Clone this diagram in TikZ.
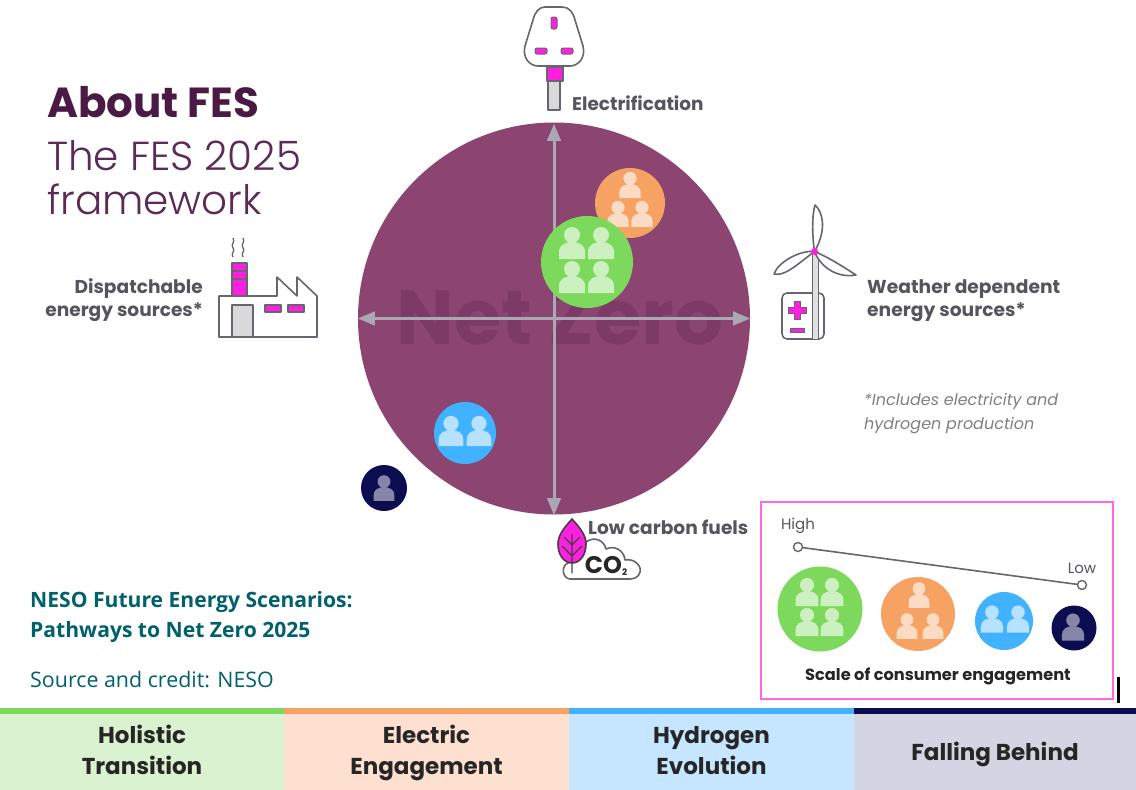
\documentclass[tikz,border=0pt]{standalone}
\usepackage{fontspec}
\setmainfont{Poppins}
\newfontfamily\neso{Open Sans}
\newfontfamily\poplight[UprightFont={* Light}]{Poppins}
\usetikzlibrary{positioning,arrows,calc,shapes}
\definecolor{plum}{HTML}{4A1A44}
\definecolor{plumlight}{HTML}{5B2A55}
\definecolor{disc}{HTML}{8B4570}
\definecolor{discword}{HTML}{7D3A66}
\definecolor{axisgrey}{HTML}{ABA8B6}
\definecolor{iconline}{HTML}{66666E}
\definecolor{labelgrey}{HTML}{55555E}
\definecolor{magenta}{HTML}{FF1FE0}
\definecolor{legendpink}{HTML}{FF66EC}
\definecolor{nesoteal}{HTML}{00606B}
\definecolor{holgreen}{HTML}{7DD95B}
\definecolor{elecorange}{HTML}{F5A263}
\definecolor{hydroblue}{HTML}{40B2FF}
\definecolor{fallnavy}{HTML}{0C0C50}
\definecolor{holpale}{HTML}{DAF2CF}
\definecolor{elecpale}{HTML}{FDE0D0}
\definecolor{hydropale}{HTML}{C6E6FF}
\definecolor{fallpale}{HTML}{D5D4E2}
\newcommand\bandlift{\rule{0pt}{23pt}}
\tikzset{
    label text/.style={
        inner sep=0pt,
        align=left,
        text=labelgrey,
        font=\bfseries
    },
    crowd/.style={
        circle,
        inner sep=0pt
    },
    icon/.style={
        draw=iconline,
        line width=1.6pt,
        line join=round
    },
    band/.style={
        inner sep=0pt,
        outer sep=0pt,
        minimum height=76pt,
        align=center,
        font=\fontsize{23}{30.5}\selectfont\bfseries,
        text=black!85,
        execute at begin node=\rule{0pt}{27pt},
        execute at end node=\strut
    },
    strip/.style={
        inner sep=0pt,
        outer sep=0pt,
        minimum height=6pt
    },
    dot/.style={
        circle,
        draw=iconline,
        fill=white,
        line width=1.4pt,
        minimum size=9pt,
        inner sep=0pt
    },
    pics/person/.style={
        code={
            \fill[white, fill opacity=#1]
                (0,-8) circle (8)
                (-13,16) -- (-13,9) .. controls (-13,2) and (-7,-1) .. (0,-1)
                .. controls (7,-1) and (13,2) .. (13,9) -- (13,16) -- cycle;
        }
    },
    pics/person/.default=0.62
}

\begin{document}
\begin{tikzpicture}[x=1pt, y=-1pt]
    \useasboundingbox[fill=white] (0,0) rectangle (1136,790);

    % title
    \node[anchor=base west, inner sep=0pt, text=plum, font=\fontsize{42}{42}\selectfont\bfseries] (title) at (47,117) {About FES};
    \node[anchor=west, inner sep=0pt, text=plumlight, font=\fontsize{40.5}{44}\selectfont\poplight, align=left] (subtitle) at (47,178) {The FES 2025\\framework};

    % the disc
    \node[crowd, fill=disc, minimum size=392pt] (disc) at (554,318.5) {};
    \node[text=discword, inner sep=0pt, font=\fontsize{76.5}{80}\selectfont\bfseries] (netzero) at (560,318) {Net Zero};
    \coordinate (axtop) at (554,124);
    \coordinate (axbottom) at (554,515);
    \coordinate (axleft) at (358,318.5);
    \coordinate (axright) at (750,318.5);
    \draw[<->, >=triangle 45, axisgrey, line width=3pt] (axtop) -- (axbottom);
    \draw[<->, >=triangle 45, axisgrey, line width=3pt] (axleft) -- (axright);

    \node[crowd, fill=elecorange, minimum size=70pt] (elec) at (630,203) {};
    \foreach \px/\py in {630/185, 618/214, 642/214}
        \pic[scale=.82] at (\px,\py) {person};
    \node[crowd, fill=holgreen, minimum size=92pt] (hol) at (587,262) {};
    \foreach \px/\py in {572/243, 601/243, 572/277, 601/277}
        \pic at (\px,\py) {person};
    \node[crowd, fill=hydroblue, minimum size=62pt] (hydro) at (465,433) {};
    \foreach \px/\py in {451/431, 479/431}
        \pic[scale=.95] at (\px,\py) {person};
    \node[crowd, fill=fallnavy, minimum size=46pt] (fall) at (384,488) {};
    \pic[scale=.8] at (384,488) {person=0.5};

    % plug
    \draw[icon, fill=white] (545,7) -- (562,7) .. controls (569,7) and (573,12) .. (575,20)
        -- (583,46) .. controls (586,58) and (578,66) .. (570,66) -- (538,66)
        .. controls (530,66) and (522,58) .. (525,46) -- (533,20)
        .. controls (535,12) and (539,7) .. (545,7) -- cycle;
    \draw[iconline, fill=magenta, line width=1pt, rounded corners=2pt] (551,17) rectangle (557,29);
    \draw[iconline, fill=magenta, line width=1pt, rounded corners=2pt] (535,48) rectangle (547,54);
    \draw[iconline, fill=magenta, line width=1pt, rounded corners=2pt] (561,48) rectangle (573,54);
    \draw[icon, fill=black!15] (548,81) rectangle (560,110);
    \draw[icon, fill=magenta] (547,67) rectangle (563,81);
    \node[label text, anchor=west, font=\fontsize{18.4}{22}\selectfont\bfseries] (electrification) at (572,103) {Electrification};

    % factory
    \draw[icon, fill=white] (219,296) -- (277,296) -- (277,277) -- (297,296) -- (297,277) -- (317,296)
        -- (317,337) -- (219,337) -- cycle;
    \draw[icon, fill=magenta] (232,263) rectangle (247,296);
    \draw[icon] (232,271) -- (247,271) (232,279) -- (247,279);
    \draw[icon, fill=black!15] (232,305) rectangle (253,337);
    \draw[icon, fill=magenta] (265,305) rectangle (281,312);
    \draw[icon, fill=magenta] (288,305) rectangle (304,312);
    \foreach \sx in {233,243}
        \draw[icon, line width=1.3pt] (\sx,238) .. controls (\sx+3,242) and (\sx-3,244) .. (\sx,248)
            .. controls (\sx+3,251) and (\sx-3,253) .. (\sx,257);
    \node[label text, anchor=east, align=right, font=\fontsize{18.6}{23}\selectfont\bfseries] (dispatch) at (203,300) {Dispatchable\\energy sources*};

    % turbine
    \draw[icon, fill=white, rounded corners=5pt] (782,293) rectangle (824,339);
    \draw[icon, line width=1pt, fill=black!12] (812,252) rectangle (818,339);
    \draw[iconline, fill=magenta, line width=1pt] (794,301) -- (800,301) -- (800,307) -- (806,307) -- (806,313)
        -- (800,313) -- (800,319) -- (794,319) -- (794,313) -- (788,313) -- (788,307) -- (794,307) -- cycle;
    \draw[iconline, fill=magenta, line width=1pt] (790,328) rectangle (804,332);
    \draw[icon, fill=white] (814.5,251.5) .. controls (812,235) and (812,215) .. (815,205)
        .. controls (823,212) and (827,230) .. (814.5,251.5);
    \draw[icon, fill=white] (814.5,251.5) .. controls (800,250) and (778,262) .. (774,274)
        .. controls (785,277) and (800,262) .. (814.5,251.5);
    \draw[icon, fill=white] (814.5,251.5) .. controls (830,258) and (845,268) .. (856,275)
        .. controls (840,278) and (822,270) .. (814.5,251.5);
    \fill[magenta] (814.5,251.5) circle (3.5);
    \node[label text, anchor=west, font=\fontsize{18.7}{23}\selectfont\bfseries] (weather) at (867,301) {Weather dependent\\energy sources*};
    \node[label text, anchor=west, text=black!50, font=\fontsize{16}{24}\selectfont\itshape] (includes) at (864,414) {*Includes electricity and\\hydrogen production};

    % leaf and cloud
    \draw[icon, fill=white] (570,579) .. controls (562,578) and (561,566) .. (568,563) -- (586,542)
        .. controls (594,536) and (604,540) .. (606,549) .. controls (614,545) and (624,550) .. (625,560)
        .. controls (634,558) and (642,566) .. (640,572) .. controls (639,577) and (634,579) .. (630,579) -- cycle;
    \node[inner sep=0pt, text=black!85, font=\fontsize{24}{24}\selectfont\bfseries] (cotwo) at (606,566) {CO\raisebox{-2pt}{\fontsize{9}{9}\selectfont 2}};
    \draw[icon, fill=magenta, draw=black!75] (572,519) .. controls (564,528) and (558,535) .. (558,544)
        .. controls (558,555) and (564,563) .. (572,563) .. controls (580,563) and (586,555) .. (586,544)
        .. controls (586,535) and (580,528) .. (572,519) -- cycle;
    \draw[black!75, line width=1.2pt] (572,534) -- (572,573)
        (564,537) -- (572,545) -- (580,537) (562,546) -- (572,556) -- (582,546);
    \node[label text, anchor=west, font=\fontsize{18.6}{22}\selectfont\bfseries] (lowcarbon) at (588,527) {Low carbon fuels};

    % source lines
    \node[anchor=west, inner sep=0pt, align=left, text=nesoteal, font=\fontsize{21.1}{30}\selectfont\neso\bfseries] (neso) at (30,617) {NESO Future Energy Scenarios:\\Pathways to Net Zero 2025};
    \node[anchor=west, inner sep=0pt, text=nesoteal, font=\fontsize{21.4}{24}\selectfont\neso] (credit) at (30,680) {Source and credit: NESO};

    % legend
    \node[draw=legendpink, line width=2pt, minimum width=352pt, minimum height=197pt, inner sep=0pt] (legend) at (937,600.5) {};
    \node[inner sep=0pt, text=labelgrey, font=\fontsize{15}{18}\selectfont] (high) at (798,526) {High};
    \node[inner sep=0pt, text=labelgrey, font=\fontsize{15}{18}\selectfont] (low) at (1082,568) {Low};
    \node[dot] (hidot) at (798,547) {};
    \node[dot] (lodot) at (1082,585) {};
    \draw[iconline, line width=1.6pt] (hidot) -- (lodot);
    \node[crowd, fill=holgreen, minimum size=85pt] (lghol) at (820,609) {};
    \foreach \px/\py in {807/592, 832/592, 807/622, 832/622}
        \pic[scale=.88] at (\px,\py) {person};
    \node[crowd, fill=elecorange, minimum size=74pt] (lgelec) at (918,614) {};
    \foreach \px/\py in {919/595, 907/626, 933/626}
        \pic[scale=.8] at (\px,\py) {person};
    \node[crowd, fill=hydroblue, minimum size=58pt] (lghydro) at (1004,621) {};
    \foreach \px/\py in {992/619, 1018/619}
        \pic[scale=.85] at (\px,\py) {person};
    \node[crowd, fill=fallnavy, minimum size=45pt] (lgfall) at (1074,628) {};
    \pic[scale=.85] at (1073,627) {person=0.5};
    \node[inner sep=0pt, text=black!85, font=\fontsize{16.2}{18}\selectfont\bfseries] (scale) at (938,676) {Scale of consumer engagement};
    \node[fill=black, minimum width=3pt, minimum height=26pt, inner sep=0pt] (tick) at (1118,690) {};

    % bottom bands
    \node[band, fill=holpale, minimum width=284pt, anchor=north west] (holistic) at (0,714) {\bandlift Holistic\\Transition};
    \node[band, fill=elecpale, minimum width=285pt, right=0pt of holistic] (electric) {\bandlift Electric\\Engagement};
    \node[band, fill=hydropale, minimum width=285pt, right=0pt of electric] (hydrogen) {\bandlift Hydrogen\\Evolution};
    \node[band, fill=fallpale, minimum width=282pt, right=0pt of hydrogen] (falling) {Falling Behind};
    \node[strip, fill=holgreen, minimum width=284pt, above=0pt of holistic] (holbar) {};
    \node[strip, fill=elecorange, minimum width=285pt, above=0pt of electric] (elecbar) {};
    \node[strip, fill=hydroblue, minimum width=285pt, above=0pt of hydrogen] (hydrobar) {};
    \node[strip, fill=fallnavy, minimum width=282pt, above=0pt of falling] (fallbar) {};
\end{tikzpicture}
\end{document}
